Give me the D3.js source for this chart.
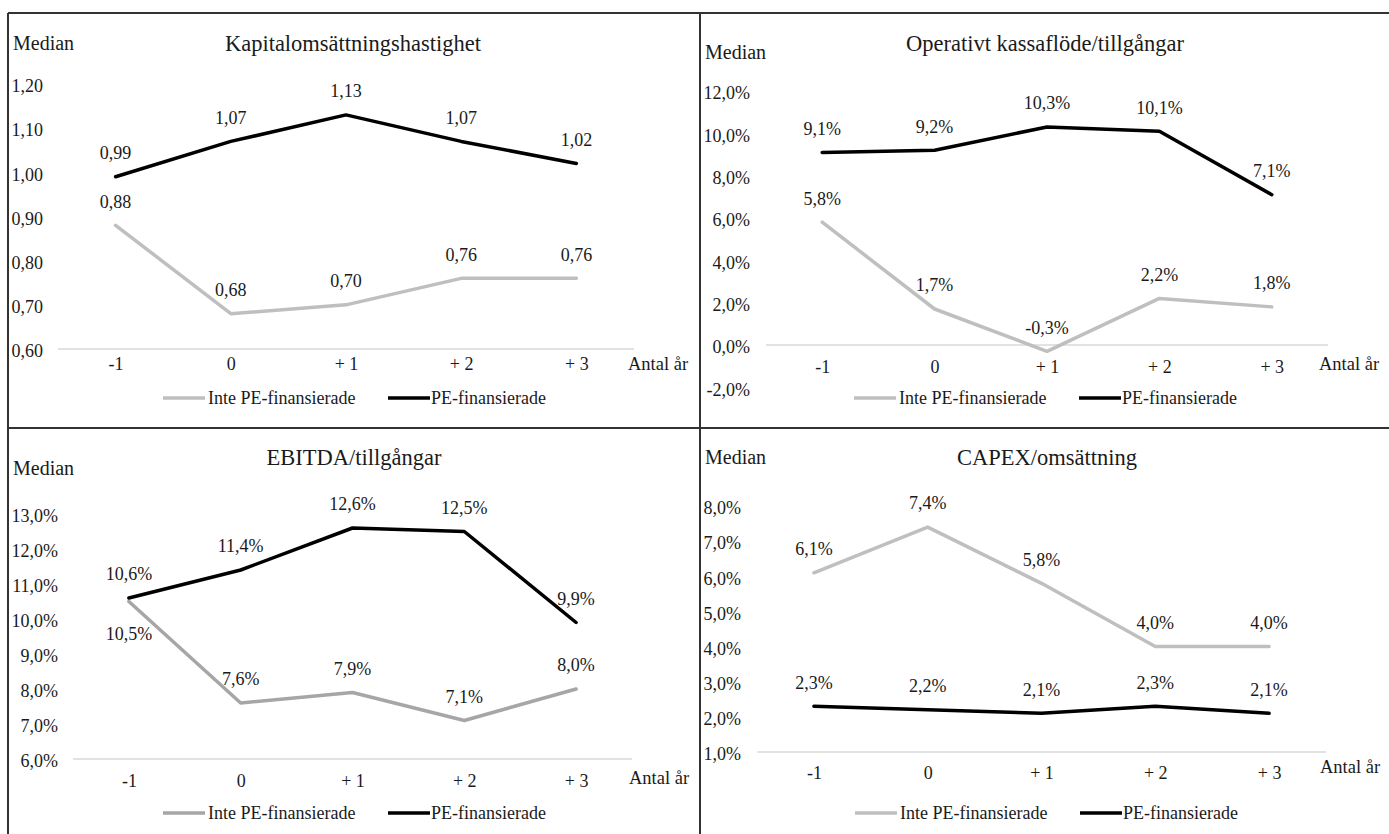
<!DOCTYPE html>
<html>
<head>
<meta charset="utf-8">
<script src="https://cdn.jsdelivr.net/npm/d3@7/dist/d3.min.js"></script>
</head>
<body style="margin:0;background:#fff">
<svg id="chart" width="1389" height="834"></svg>
<script>
// Years relative to the transaction
const categories = ["-1", "0", "+ 1", "+ 2", "+ 3"];
const seriesNames = ["Inte PE-finansierade", "PE-finansierade"];

// Kapitalomsättningshastighet (ratio)
const kapitalInte = [0.88, 0.68, 0.70, 0.76, 0.76];
const kapitalPE   = [0.99, 1.07, 1.13, 1.07, 1.02];
const kapitalTicks = [0.60, 0.70, 0.80, 0.90, 1.00, 1.10, 1.20];

// Operativt kassaflöde/tillgångar (%)
const kassaInte = [5.8, 1.7, -0.3, 2.2, 1.8];
const kassaPE   = [9.1, 9.2, 10.3, 10.1, 7.1];
const kassaTicks = [-2, 0, 2, 4, 6, 8, 10, 12];

// EBITDA/tillgångar (%)
const ebitdaInte = [10.5, 7.6, 7.9, 7.1, 8.0];
const ebitdaPE   = [10.6, 11.4, 12.6, 12.5, 9.9];
const ebitdaTicks = [6, 7, 8, 9, 10, 11, 12, 13];

// CAPEX/omsättning (%)
const capexInte = [6.1, 7.4, 5.8, 4.0, 4.0];
const capexPE   = [2.3, 2.2, 2.1, 2.3, 2.1];
const capexTicks = [1, 2, 3, 4, 5, 6, 7, 8];

const FONT = "'Liberation Serif'";
const INK = "#1a1a1a";

const svg = d3.select("#chart");

const fmt2 = v => d3.format(".2f")(v).replace(".", ",").replace("−", "-");
const fmtPct = v => d3.format(".1f")(v).replace(".", ",").replace("−", "-") + "%";

// Every text gets the serif face explicitly
function styleText(sel, size) {
  return sel.style("font-family", FONT)
    .style("font-size", size + "px")
    .attr("fill", INK);
}

// Panel frames
const frame = svg.append("g").attr("stroke", "#333").attr("stroke-width", 2);
frame.append("line").attr("x1", 8).attr("x2", 1389).attr("y1", 13).attr("y2", 13);
frame.append("line").attr("x1", 8).attr("x2", 8).attr("y1", 13).attr("y2", 834);
frame.append("line").attr("x1", 700).attr("x2", 700).attr("y1", 13).attr("y2", 834);
frame.append("line").attr("x1", 8).attr("x2", 1389).attr("y1", 428).attr("y2", 428);

const panels = [
  {
    title: "Kapitalomsättningshastighet", inte: kapitalInte, pe: kapitalPE, ticks: kapitalTicks,
    fmtTick: fmt2, fmtLabel: fmt2, base: 0.60,
    xRange: [58, 634], yRange: [349, 84], tickRight: 43,
    titleX: 353, titleY: 43, medianX: 13, medianY: 43,
    xLabelY: 364, antalX: 628, antalY: 364, legendX: 163, legendY: 398,
    grayColor: "#bfbfbf"
  },
  {
    title: "Operativt kassaflöde/tillgångar", inte: kassaInte, pe: kassaPE, ticks: kassaTicks,
    fmtTick: fmtPct, fmtLabel: fmtPct, base: 0,
    xRange: [766, 1328], yRange: [387.3, 91], tickRight: 750,
    titleX: 1045, titleY: 43, medianX: 705, medianY: 52,
    xLabelY: 367, antalX: 1319, antalY: 364, legendX: 854, legendY: 398,
    grayColor: "#bfbfbf"
  },
  {
    title: "EBITDA/tillgångar", inte: ebitdaInte, pe: ebitdaPE, ticks: ebitdaTicks,
    fmtTick: fmtPct, fmtLabel: fmtPct, base: 6,
    xRange: [73, 632], yRange: [759, 514], tickRight: 58,
    titleX: 354, titleY: 457, medianX: 13, medianY: 468,
    xLabelY: 781, antalX: 629, antalY: 778, legendX: 163, legendY: 813,
    grayColor: "#a6a6a6"
  },
  {
    title: "CAPEX/omsättning", inte: capexInte, pe: capexPE, ticks: capexTicks,
    fmtTick: fmtPct, fmtLabel: fmtPct, base: 1,
    xRange: [757, 1326], yRange: [752, 506], tickRight: 741,
    titleX: 1047, titleY: 457, medianX: 705, medianY: 457,
    xLabelY: 773, antalX: 1320, antalY: 767, legendX: 855, legendY: 813,
    grayColor: "#bfbfbf"
  }
];

panels.forEach(p => {
  const g = svg.append("g");
  const x = d3.scalePoint().domain(categories).range(p.xRange).padding(0.5);
  const y = d3.scaleLinear()
    .domain([d3.min(p.ticks), d3.max(p.ticks)])
    .range(p.yRange);

  // Title and unit
  styleText(g.append("text"), 22.5)
    .attr("x", p.titleX).attr("y", p.titleY).attr("dy", "0.35em")
    .attr("text-anchor", "middle").text(p.title);
  styleText(g.append("text"), 20)
    .attr("x", p.medianX).attr("y", p.medianY).attr("dy", "0.35em").text("Median");

  // Base line of the value axis
  g.append("line")
    .attr("x1", p.xRange[0]).attr("x2", p.xRange[1])
    .attr("y1", y(p.base)).attr("y2", y(p.base))
    .attr("stroke", "#d9d9d9").attr("stroke-width", 1.5);

  // Value axis
  const yAxis = g.append("g")
    .attr("transform", `translate(${p.tickRight},2)`)
    .call(d3.axisLeft(y).tickValues(p.ticks).tickFormat(p.fmtTick).tickSize(0).tickPadding(0))
    .attr("font-family", null);
  yAxis.select(".domain").remove();
  styleText(yAxis.selectAll("text"), 18);

  // Category axis
  const xAxis = g.append("g")
    .attr("transform", `translate(0,${p.xLabelY})`)
    .call(d3.axisBottom(x).tickSize(0).tickPadding(0))
    .attr("font-family", null);
  xAxis.select(".domain").remove();
  styleText(xAxis.selectAll("text"), 18).attr("y", 0).attr("dy", "0.35em");

  styleText(g.append("text"), 18.5)
    .attr("x", p.antalX).attr("y", p.antalY).attr("dy", "0.35em").text("Antal år");

  // Lines
  const line = d3.line().x((d, i) => x(categories[i])).y(d => y(d));
  const series = [
    { values: p.inte, color: p.grayColor },
    { values: p.pe, color: "#000" }
  ];
  series.forEach(s => {
    g.append("path").datum(s.values)
      .attr("d", line)
      .attr("fill", "none")
      .attr("stroke", s.color)
      .attr("stroke-width", 3.5)
      .attr("stroke-linejoin", "round")
      .attr("stroke-linecap", "round");
  });

  // Value labels: above each point, or below when the two series' points nearly coincide
  series.forEach((s, si) => {
    const other = series[1 - si].values;
    s.values.forEach((v, i) => {
      const py = y(v);
      const oy = y(other[i]);
      const below = Math.abs(py - oy) < 20 && py > oy;
      styleText(g.append("text"), 18)
        .attr("x", x(categories[i]))
        .attr("y", below ? py + 32 : py - 24)
        .attr("dy", "0.35em")
        .attr("text-anchor", "middle")
        .text(p.fmtLabel(v));
    });
  });

  // Legend
  const lg = g.append("g").attr("transform", `translate(${p.legendX},${p.legendY})`);
  lg.append("line").attr("x1", 0).attr("x2", 42).attr("y1", 0).attr("y2", 0)
    .attr("stroke", p.grayColor).attr("stroke-width", 3.5);
  styleText(lg.append("text"), 18).attr("x", 45).attr("dy", "0.35em").text(seriesNames[0]);
  lg.append("line").attr("x1", 225).attr("x2", 267).attr("y1", 0).attr("y2", 0)
    .attr("stroke", "#000").attr("stroke-width", 3.5);
  styleText(lg.append("text"), 18).attr("x", 268).attr("dy", "0.35em").text(seriesNames[1]);
});
</script>
</body>
</html>
